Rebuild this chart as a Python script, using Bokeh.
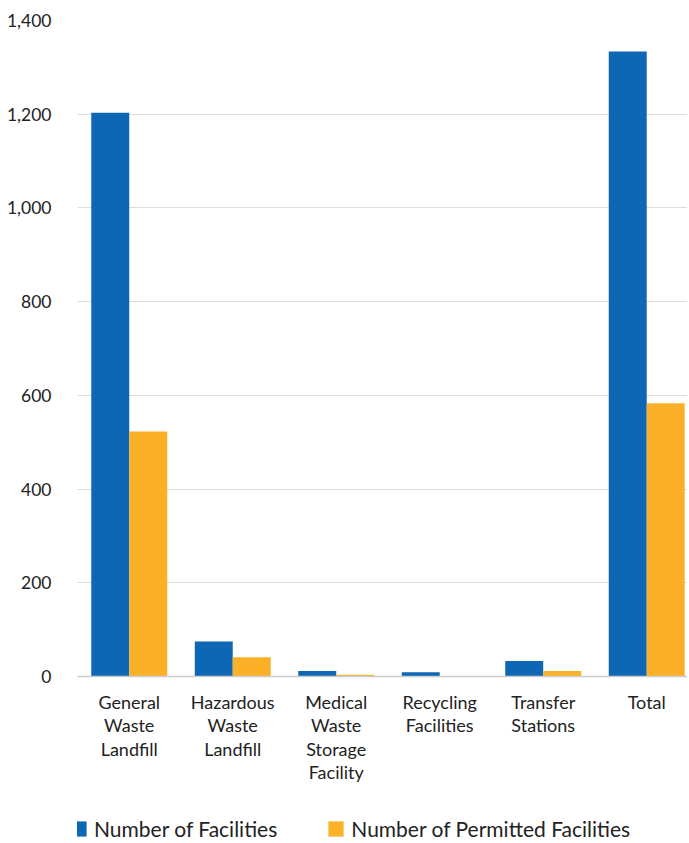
from bokeh.plotting import figure
from bokeh.models import ColumnDataSource, Range1d, FixedTicker, Legend, LegendItem, NumeralTickFormatter, Span
from bokeh.core.properties import value
from bokeh.transform import dodge
from bokeh.embed import file_html
from bokeh.resources import INLINE

categories = ["General\nWaste\nLandfill", "Hazardous\nWaste\nLandfill", "Medical\nWaste\nStorage\nFacility",
              "Recycling\nFacilities", "Transfer\nStations", "Total"]
facilities = [1203, 75, 12, 9, 33, 1334]
permitted = [523, 41, 4, 1, 12, 583]
series_names = ["Number of Facilities", "Number of Permitted Facilities"]
y_ticks = [0, 200, 400, 600, 800, 1000, 1200, 1400]

BLUE = "#0E67B4"
ORANGE = "#FBB027"
FONT = "Lato"
TEXT = "#222222"

idx = list(range(len(categories)))
src = ColumnDataSource(dict(x=idx, fac=facilities, per=permitted, label=categories,
                            base=[0] * len(categories)))

# frame spans page y 21..842; 0 sits at y=677 (1400 units = 656 px)
p = figure(frame_width=610, frame_height=821, output_backend="svg", toolbar_location=None,
           x_range=Range1d(-0.5, 5.394), y_range=Range1d(-352, 1400),
           min_border_left=77, min_border_right=0, min_border_top=20, min_border_bottom=0)
p.outline_line_color = None

r1 = p.vbar(x=dodge("x", -0.1835, range=p.x_range), top="fac", width=0.367, source=src,
            fill_color=BLUE, line_color=None)
r2 = p.vbar(x=dodge("x", 0.1835, range=p.x_range), top="per", width=0.367, source=src,
            fill_color=ORANGE, line_color=None)

# category labels under the baseline
p.text(x="x", y="base", text="label", source=src, text_align="center", text_baseline="top",
       y_offset=14, text_font=value(FONT), text_font_size="18px", text_color=TEXT,
       text_line_height=1.07)

p.add_layout(Span(location=0, dimension="width", line_color="#cccccc", line_width=1.5))

p.xaxis.visible = False
p.yaxis.ticker = FixedTicker(ticks=y_ticks)
p.yaxis.formatter = NumeralTickFormatter(format="0,0")
p.yaxis.major_tick_line_color = None
p.yaxis.minor_tick_line_color = None
p.yaxis.major_label_text_font = FONT
p.yaxis.major_label_text_font_size = "17.5px"
p.yaxis.major_label_text_color = TEXT
p.yaxis.axis_line_color = None
p.yaxis.major_label_standoff = 20
p.xgrid.grid_line_color = None
p.ygrid.grid_line_color = "#dddddd"
p.ygrid.grid_line_width = 1

legend = Legend(items=[LegendItem(label=series_names[0], renderers=[r1]),
                       LegendItem(label=series_names[1], renderers=[r2])],
                orientation="horizontal", location=(-8, 0),
                glyph_width=19, glyph_height=19, label_standoff=6, spacing=49,
                label_text_font=FONT, label_text_font_size="21px", label_text_color=TEXT,
                border_line_color=None, background_fill_alpha=0, padding=0, margin=0)
p.add_layout(legend, "center")

open("out.html", "w").write(file_html(p, INLINE))
